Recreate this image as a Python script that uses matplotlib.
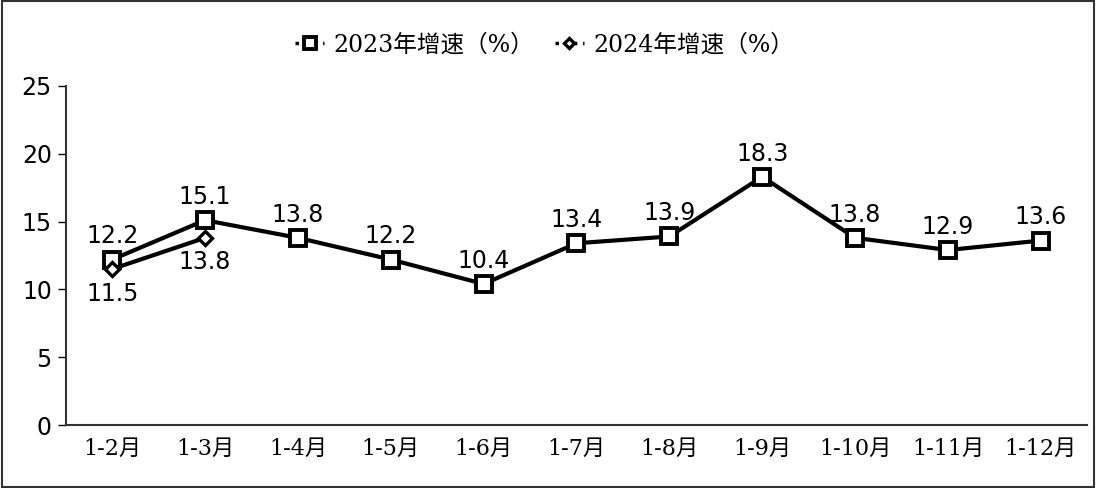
import matplotlib.pyplot as plt
from matplotlib.patches import Rectangle

months = ['1-2月', '1-3月', '1-4月', '1-5月', '1-6月', '1-7月', '1-8月', '1-9月', '1-10月', '1-11月', '1-12月']
growth_2023 = [12.2, 15.1, 13.8, 12.2, 10.4, 13.4, 13.9, 18.3, 13.8, 12.9, 13.6]
growth_2024 = [11.5, 13.8]
legend_labels = ['2023年增速（%）', '2024年增速（%）']

plt.rcParams['font.family'] = ['DejaVu Sans', 'Noto Sans CJK SC']
serif = ['DejaVu Serif', 'Noto Sans CJK SC']

fig = plt.figure(figsize=(10.96, 4.88), dpi=100)
ax = fig.add_axes([0.060, 0.129, 0.932, 0.695])

x23 = list(range(len(growth_2023)))
x24 = list(range(len(growth_2024)))
ax.plot(x23, growth_2023, color='black', lw=3, marker='s', markersize=11,
        markerfacecolor='white', markeredgecolor='black', markeredgewidth=2.8,
        label=legend_labels[0], zorder=3)
ax.plot(x24, growth_2024, color='black', lw=3, marker='D', markersize=7,
        markerfacecolor='white', markeredgecolor='black', markeredgewidth=2.4,
        label=legend_labels[1], zorder=4)

for x, v in zip(x23, growth_2023):
    ax.annotate(f'{v:.1f}', (x, v), xytext=(0, 8), textcoords='offset points',
                ha='center', va='bottom', fontsize=17)
for x, v in zip(x24, growth_2024):
    ax.annotate(f'{v:.1f}', (x, v), xytext=(0, -9), textcoords='offset points',
                ha='center', va='top', fontsize=17)

ax.set_xlim(-0.5, len(months) - 0.5)
ax.set_ylim(0, 25)
ax.set_yticks([0, 5, 10, 15, 20, 25])
ax.set_xticks(x23)
ax.set_xticklabels(months, family=serif, fontsize=16)
ax.tick_params(axis='y', labelsize=17, length=6, width=1, pad=4)
ax.tick_params(axis='x', length=0, pad=9)
for side in ['top', 'right']:
    ax.spines[side].set_visible(False)
for side in ['left', 'bottom']:
    ax.spines[side].set_linewidth(1.5)
    ax.spines[side].set_color('#333333')

leg = fig.legend(loc='upper center', bbox_to_anchor=(0.497, 0.975), ncol=2, frameon=False,
                 prop={'family': serif, 'size': 17}, handlelength=1.2, columnspacing=0.9,
                 handletextpad=0.4, markerscale=0.8)
for line in leg.get_lines():
    line.set_linestyle(':')
    line.set_linewidth(2.5)

fig.add_artist(Rectangle((0.002, 0.003), 0.996, 0.994, transform=fig.transFigure,
                         fill=False, edgecolor='#333333', linewidth=1.5))

fig.savefig('out.png', dpi=100)
